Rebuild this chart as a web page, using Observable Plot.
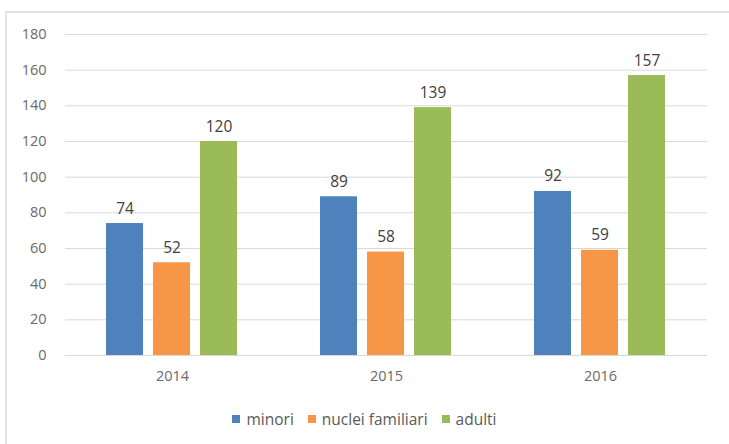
<!DOCTYPE html>
<html>
<head>
<meta charset="utf-8">
<script src="https://cdn.jsdelivr.net/npm/d3@7"></script>
<script src="https://cdn.jsdelivr.net/npm/@observablehq/plot@0.6"></script>
<style>
  html, body { margin: 0; padding: 0; background: #fff; overflow: hidden; }
  body { width: 729px; height: 444px; position: relative; font-family: "Open Sans", sans-serif; }
  #frame { position: absolute; left: 5px; top: 11px; width: 740px; height: 440px; border: 2px solid #e3e3e3; box-sizing: border-box; }
  #chart { position: absolute; left: 0; top: 0; }
  #legend { position: absolute; left: 0; top: 408px; width: 729px; display: flex; justify-content: center; gap: 14px; font-size: 15.5px; color: #595959; }
  #legend span.item { display: inline-flex; align-items: center; }
  #legend span.sw { display: inline-block; width: 8px; height: 8px; margin-right: 6px; }
</style>
</head>
<body>
<div id="frame"></div>
<div id="chart"></div>
<div id="legend"></div>
<script>
const years = ["2014", "2015", "2016"];
const series = ["minori", "nuclei familiari", "adulti"];
const minori = [74, 89, 92];
const nucleiFamiliari = [52, 58, 59];
const adulti = [120, 139, 157];
const yTicks = [0, 20, 40, 60, 80, 100, 120, 140, 160, 180];
const colors = ["#4F81BD", "#F79646", "#9BBB59"];

const values = [minori, nucleiFamiliari, adulti];
const rows = [];
years.forEach((year, i) => {
  series.forEach((s, j) => rows.push({year, series: s, value: values[j][i]}));
});

const chart = Plot.plot({
  width: 729,
  height: 395,
  marginLeft: 64,
  marginRight: 21,
  marginTop: 34,
  marginBottom: 40,
  style: {fontFamily: "'Open Sans', sans-serif", fontSize: "14.5px", color: "#6a6a6a", background: "transparent"},
  fx: {domain: years, padding: 0, axis: "bottom", label: null, tickSize: 0, tickPadding: 15},
  x: {domain: series, axis: null, paddingInner: 0.21, paddingOuter: 0.84},
  y: {domain: [0, 180], ticks: yTicks, label: null, tickSize: 0, tickPadding: 19},
  color: {domain: series, range: colors},
  marks: [
    Plot.ruleY(yTicks, {stroke: "#d9d9d9", strokeWidth: 1}),
    Plot.barY(rows, {fx: "year", x: "series", y: "value", fill: "series"}),
    Plot.text(rows, {fx: "year", x: "series", y: "value", text: d => String(d.value),
      dy: -10, lineAnchor: "bottom", fill: "#404040", fontSize: 15.5})
  ]
});
document.getElementById("chart").appendChild(chart);

const legend = document.getElementById("legend");
series.forEach((s, j) => {
  const item = document.createElement("span");
  item.className = "item";
  const sw = document.createElement("span");
  sw.className = "sw";
  sw.style.background = colors[j];
  item.appendChild(sw);
  item.appendChild(document.createTextNode(s));
  legend.appendChild(item);
});
</script>
</body>
</html>
